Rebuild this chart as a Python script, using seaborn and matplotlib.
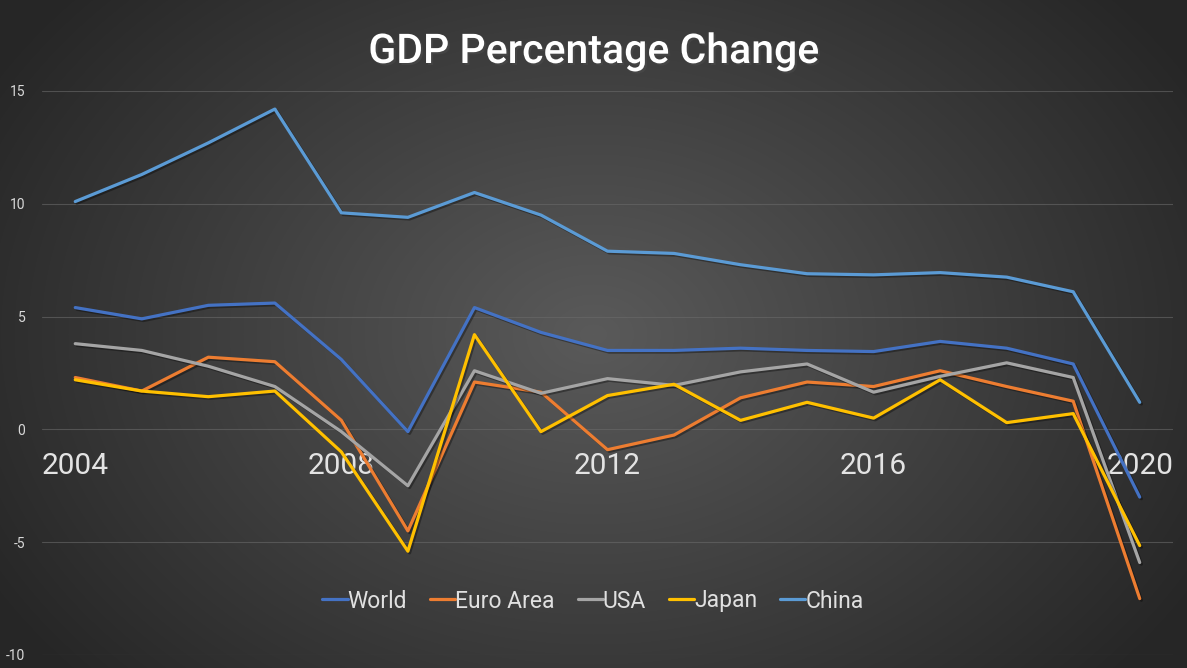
import numpy as np
import pandas as pd
import matplotlib
matplotlib.use("Agg")
import matplotlib.pyplot as plt
import matplotlib.patheffects as pe
import seaborn as sns

years = list(range(2004, 2021))
world = [5.4, 4.9, 5.5, 5.6, 3.1, -0.1, 5.4, 4.3, 3.5, 3.5, 3.6, 3.5, 3.45, 3.9, 3.6, 2.9, -3.0]
euro = [2.3, 1.7, 3.2, 3.0, 0.4, -4.5, 2.1, 1.65, -0.9, -0.25, 1.4, 2.1, 1.9, 2.6, 1.9, 1.25, -7.5]
usa = [3.8, 3.5, 2.8, 1.9, -0.1, -2.5, 2.6, 1.6, 2.25, 1.95, 2.55, 2.9, 1.65, 2.35, 2.95, 2.3, -5.9]
japan = [2.2, 1.7, 1.45, 1.7, -1.0, -5.4, 4.2, -0.1, 1.5, 2.0, 0.4, 1.2, 0.5, 2.2, 0.3, 0.7, -5.15]
china = [10.1, 11.3, 12.7, 14.2, 9.6, 9.4, 10.5, 9.5, 7.9, 7.8, 7.3, 6.9, 6.85, 6.95, 6.75, 6.1, 1.2]
series_names = ["World", "Euro Area", "USA", "Japan", "China"]
colors = ["#4472C4", "#ED7D31", "#A5A5A5", "#FFC000", "#5B9BD5"]
xtick_years = [2004, 2008, 2012, 2016, 2020]
yticks = [-10, -5, 0, 5, 10, 15]

df = pd.DataFrame({
    "Year": years * 5,
    "Value": world + euro + usa + japan + china,
    "Series": sum([[n] * len(years) for n in series_names], []),
})

sns.set_theme(style="white")
plt.rcParams["font.family"] = ["Roboto", "DejaVu Sans"]

fig = plt.figure(figsize=(11.87, 6.68), dpi=100)

# radial gradient background
bg = fig.add_axes([0, 0, 1, 1], zorder=-10)
yy, xx = np.mgrid[0:668, 0:1187]
cx, cy = 593, 334
r = np.sqrt(((xx - cx) / 700.0) ** 2 + ((yy - cy) / 520.0) ** 2)
r = np.clip(r, 0, 1)
inner = np.array([0x5a, 0x5a, 0x5a]) / 255.0
outer = np.array([0x26, 0x26, 0x26]) / 255.0
img = inner[None, None, :] * (1 - r[..., None]) + outer[None, None, :] * r[..., None]
bg.imshow(img, aspect="auto", extent=[0, 1, 0, 1])
bg.axis("off")

ax = fig.add_axes([42 / 1187, 1 - 655 / 668, (1173 - 42) / 1187, (655 - 91) / 668])
ax.patch.set_alpha(0)

sns.lineplot(data=df, x="Year", y="Value", hue="Series", palette=colors,
             hue_order=series_names, linewidth=2.3, ax=ax, legend=True)
for line in ax.get_lines():
    line.set_path_effects([pe.SimpleLineShadow(offset=(1.2, -1.2), alpha=0.35, shadow_color="black"), pe.Normal()])
    line.set_solid_capstyle("round")

ax.spines["bottom"].set_position(("data", 0))
for s in ax.spines.values():
    s.set_visible(False)
ax.set_xlim(2003.5, 2020.5)
ax.set_ylim(-10, 15)
ax.set_yticks(yticks)
ax.set_yticklabels([str(v) for v in yticks], color="#d9d9d9", fontsize=10)
ax.set_xticks(xtick_years)
ax.set_xticklabels([str(v) for v in xtick_years], color="#e3e3e3", fontsize=21.5)
ax.tick_params(axis="x", length=0, pad=16)
ax.tick_params(axis="y", length=0, pad=12)
ax.grid(axis="y", color="#6a6a6a", linewidth=0.8, alpha=0.6)
ax.set_axisbelow(True)
ax.set_xlabel("")
ax.set_ylabel("")

leg = ax.legend(loc="center", bbox_to_anchor=(593 / 1187, 1 - 601 / 668), bbox_transform=fig.transFigure,
                ncol=5, frameon=False,
                fontsize=16.5, handlelength=1.1, handletextpad=0.0, columnspacing=1.0)
for t in leg.get_texts():
    t.set_color("#e0e0e0")
for h in leg.get_lines():
    h.set_linewidth(2.3)
    h.set_path_effects([])

fig.text(594 / 1187, 1 - 52 / 668, "GDP Percentage Change", ha="center", va="center",
         color="#ffffff", fontsize=29.5, fontweight="medium",
         path_effects=[pe.withSimplePatchShadow(offset=(1.5, -1.5), alpha=0.5)])

fig.savefig("out.png", dpi=100)
